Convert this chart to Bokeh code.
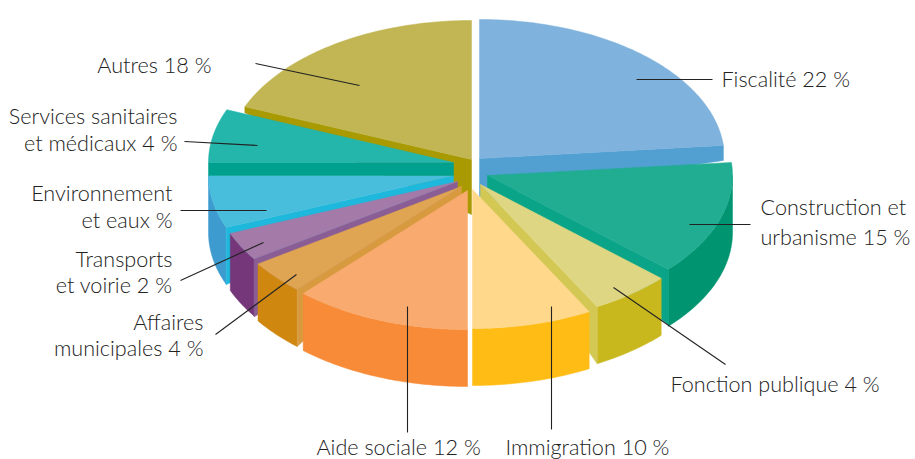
import math
from bokeh.plotting import figure
from bokeh.core.properties import value
from bokeh.embed import file_html
from bokeh.resources import INLINE

# Slices, clockwise from 12 o'clock. Shares are the angular shares.
names = ["Fiscalité", "Construction et urbanisme", "Fonction publique", "Immigration", "Aide sociale",
         "Affaires municipales", "Transports et voirie", "Environnement et eaux",
         "Services sanitaires et médicaux", "Autres"]
shares = [23.5, 13.3, 5.3, 7.9, 11.7, 3.9, 3.3, 6.1, 6.2, 18.8]

# Style / layout per slice
top_col = ["#7FB2DC", "#20AD92", "#DED683", "#FFD88C", "#F9AB6F", "#DFA553", "#A37AA8", "#49BEDC", "#24B5AB", "#C1B653"]
rim_col = ["#52A0D2", "#009570", "#C8B81E", "#FFBC14", "#F78B37", "#CF8710", "#75367A", "#3E9BD0", "#00A08E", "#A89A00"]
cut_col = ["#52A0D2", "#0AA588", "#D4C855", None, None, "#D89A3E", "#8A5E94", "#1DB8DB", "#00A08E", "#A89A00"]
cut_edge = ["end", "end", "end", None, None, "start", "start", "start", "start", "start"]
cut_depth_rim = [15, 55, 57, 0, 0, 57, 58, 57, 13, 6]
cut_depth_apex = [38, 20, 15, 0, 0, 10, 8, 10, 13, 55]
explode_dx = [7, 15, 8, 0, -5, -11, -15, -19, -19, -1]
explode_dy = [-14, 3, 12, 17, 18, 14, 9, 3, -10, -13]
draw_order = [9, 0, 7, 8, 6, 5, 4, 1, 2, 3]

CX, CY, RX, RY, DEPTH = 472, 172, 245, 139, 57

# Text
label_text = ["Autres 18 %", "Fiscalité 22 %", "Construction et", "urbanisme 15 %", "Fonction publique 4 %",
              "Immigration 10 %", "Aide sociale 12 %", "Services sanitaires", "et médicaux 4 %",
              "Environnement", "et eaux %", "Transports", "et voirie 2 %", "Affaires", "municipales 4 %"]
label_x = [211, 721, 760, 760, 670, 505, 316, 177, 177, 172, 172, 172, 172, 203, 203]
label_y = [64, 78, 206, 236, 383, 446, 446, 115, 142, 192, 219, 258, 284, 321, 347]
label_align = ["right", "left", "left", "left", "left", "left", "left", "right", "right",
               "right", "right", "right", "right", "right", "right"]
lead_x0 = [636, 689, 613, 551, 407, 296, 263, 266, 257, 359]
lead_y0 = [79, 224, 287, 306, 306, 274, 242, 210, 145, 85]
lead_x1 = [712, 750, 725, 551, 407, 215, 180, 180, 184, 255]
lead_y1 = [79, 224, 364, 429, 432, 334, 280, 210, 141, 63]

p = figure(width=915, height=459, x_range=(0, 915), y_range=(459, 0), output_backend="svg",
           toolbar_location=None, min_border=0, outline_line_color=None, background_fill_color="white")
p.axis.visible = False
p.grid.visible = False

bounds = []
t = 90.0
total = sum(shares)
for s in shares:
    bounds.append((t, t - s / total * 360))
    t = bounds[-1][1]


def arc(ax, ay, t0, t1):
    n = max(2, int(abs(t0 - t1)) + 1)
    ts = [math.radians(t0 + (t1 - t0) * k / (n - 1)) for k in range(n)]
    return [ax + RX * math.cos(a) for a in ts], [ay - RY * math.sin(a) for a in ts]


for i in draw_order:
    ax, ay = CX + explode_dx[i], CY + explode_dy[i]
    t0, t1 = bounds[i]
    xs, ys = arc(ax, ay, t0, t1)
    # outer wall, where the rim faces the viewer
    lo, hi = max(min(t0, t1), -180.0), min(max(t0, t1), 0.0)
    if hi > lo:
        wx, wy = arc(ax, ay, hi, lo)
        p.patch(wx + wx[::-1], wy + [v + DEPTH for v in wy[::-1]], fill_color=rim_col[i], line_color=rim_col[i], line_width=0.5)
    # cut wall
    if cut_edge[i]:
        ex, ey = (xs[0], ys[0]) if cut_edge[i] == "start" else (xs[-1], ys[-1])
        p.patch([ax, ex, ex, ax], [ay, ey, ey + cut_depth_rim[i], ay + cut_depth_apex[i]],
                fill_color=cut_col[i], line_color=cut_col[i], line_width=0.5)
    # top face
    p.patch([ax] + xs, [ay] + ys, fill_color=top_col[i], line_color=top_col[i], line_width=0.5)

p.segment(lead_x0, lead_y0, lead_x1, lead_y1, line_color="#222222", line_width=1.1)
for x, y, tx, al in zip(label_x, label_y, label_text, label_align):
    p.text([x], [y], text=[tx], text_align=al, text_baseline="alphabetic",
           text_font=value("Lato Light"), text_font_size="21.6px", text_color="#222222")

open("out.html", "w").write(file_html(p, INLINE))
